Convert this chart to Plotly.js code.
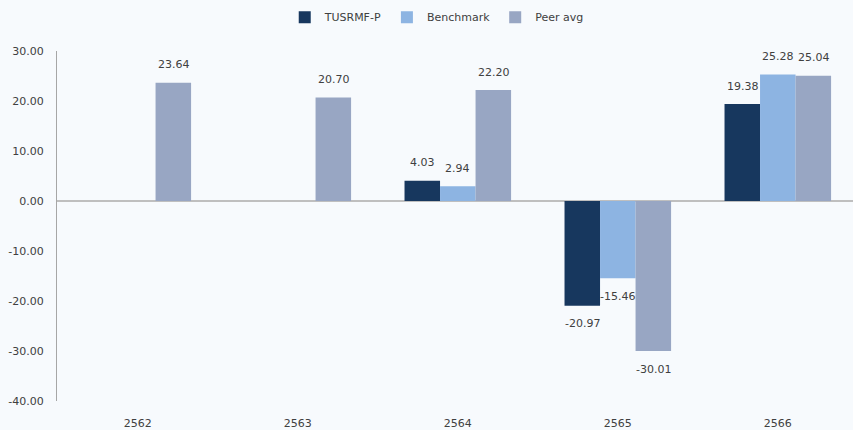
<!DOCTYPE html>
<html>
<head>
<meta charset="utf-8">
<script src="https://cdn.plot.ly/plotly-3.0.1.min.js"></script>
<style>
html,body{margin:0;padding:0;background:#f7fafd;}
#chart{width:853px;height:430px;}
</style>
</head>
<body>
<div id="chart"></div>
<script>
const years = ["2562", "2563", "2564", "2565", "2566"];
const fund = [null, null, 4.03, -20.97, 19.38];
const benchmark = [null, null, 2.94, -15.46, 25.28];
const peerAvg = [23.64, 20.70, 22.20, -30.01, 25.04];
const seriesNames = ["TUSRMF-P", "Benchmark", "Peer avg"];
const seriesColors = ["#17375e", "#8db4e2", "#98a6c3"];
const yTicks = [30, 20, 10, 0, -10, -20, -30, -40];

const seriesData = [fund, benchmark, peerAvg];
const traces = seriesData.map((vals, i) => ({
  type: "bar",
  name: seriesNames[i],
  x: years,
  y: vals,
  marker: {color: seriesColors[i]},
  hoverinfo: "skip"
}));

const shifts = [-35, 0, 36];
const annotations = [];
seriesData.forEach((vals, i) => {
  vals.forEach((v, j) => {
    if (v === null) return;
    annotations.push({
      x: j, y: v, xref: "x", yref: "y",
      text: v.toFixed(2), showarrow: false,
      xshift: shifts[i], yshift: v >= 0 ? 18 : -18,
      xanchor: "center", yanchor: "middle",
      font: {family: "DejaVu Sans", size: 11, color: "#404040"}
    });
  });
});

const layout = {
  width: 853, height: 430,
  paper_bgcolor: "#f7fafd", plot_bgcolor: "#f7fafd",
  margin: {l: 57, r: 0, t: 51, b: 29},
  barmode: "group", bargap: 0.334, bargroupgap: 0,
  font: {family: "DejaVu Sans", size: 11, color: "#404040"},
  showlegend: true,
  legend: {
    orientation: "h", xref: "container", yref: "container",
    x: 0.512, xanchor: "center", y: 0.96, yanchor: "middle",
    bgcolor: "rgba(0,0,0,0)", font: {size: 11, color: "#404040"},
    itemwidth: 30, traceorder: "normal"
  },
  xaxis: {
    type: "category", range: [-0.505, 4.47],
    showgrid: false, showline: false, zeroline: false,
    ticks: "outside", ticklen: 12, tickcolor: "rgba(0,0,0,0)",
    fixedrange: true
  },
  yaxis: {
    range: [-40, 30], tickvals: yTicks,
    ticktext: yTicks.map(v => v.toFixed(2)),
    showgrid: false, zeroline: true, zerolinecolor: "#bfbfbf", zerolinewidth: 1.5,
    showline: true, linecolor: "#a6a6a6", linewidth: 1,
    ticks: "outside", ticklen: 10, tickcolor: "rgba(0,0,0,0)",
    fixedrange: true
  },
  annotations: annotations
};

Plotly.newPlot("chart", traces, layout, {displayModeBar: false, staticPlot: true});
</script>
</body>
</html>
